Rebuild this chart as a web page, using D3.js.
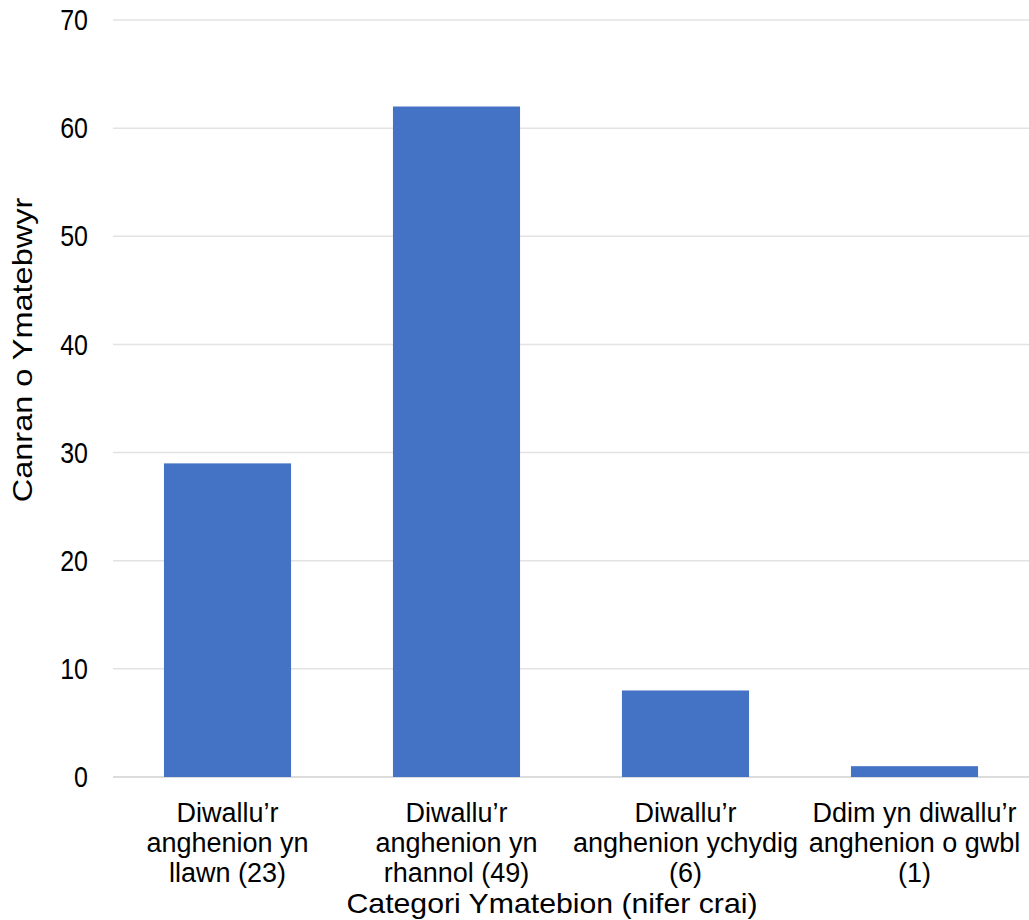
<!DOCTYPE html>
<html><head><meta charset="utf-8">
<script src="https://cdn.jsdelivr.net/npm/d3@7"></script>
<style>body{margin:0;background:#fff}svg{display:block}text{font-family:"Liberation Sans",Arial,sans-serif;fill:#000}</style>
</head><body><svg id="c" width="1029" height="920"></svg>
<script>
const categories = [
  ["Diwallu\u2019r", "anghenion yn", "llawn (23)"],
  ["Diwallu\u2019r", "anghenion yn", "rhannol (49)"],
  ["Diwallu\u2019r", "anghenion ychydig", "(6)"],
  ["Ddim yn diwallu\u2019r", "anghenion o gwbl", "(1)"]
];
const values = [29, 62, 8, 1];
const yTicks = [0, 10, 20, 30, 40, 50, 60, 70];
const yTitle = "Canran o Ymatebwyr";
const xTitle = "Categori Ymatebion (nifer crai)";

(function(){
const svg = d3.select("#c");
const mL = 113, mR = 1029, mT = 20, mB = 777;
const x = d3.scaleBand().domain(d3.range(categories.length)).range([mL, mR]).paddingInner(0.445).paddingOuter(0.2225);
const y = d3.scaleLinear().domain([0, 70]).range([mB, mT]);

svg.append("g").selectAll("line").data(yTicks).join("line")
  .attr("x1", mL).attr("x2", mR)
  .attr("y1", d => y(d)).attr("y2", d => y(d))
  .attr("stroke", d => d === 0 ? "#d0d0d0" : "#e3e3e3").attr("stroke-width", 1.5);

svg.append("g").selectAll("rect").data(values).join("rect")
  .attr("x", (d, i) => x(i)).attr("width", x.bandwidth())
  .attr("y", d => y(d)).attr("height", d => y(0) - y(d))
  .attr("fill", "#4472c4");

svg.append("g").selectAll("text").data(yTicks).join("text")
  .attr("transform", d => `translate(88,${y(d)}) scale(1,1.15)`)
  .attr("dy", "0.35em")
  .attr("text-anchor", "end").attr("font-size", 25).text(d => d);

const cl = svg.append("g").selectAll("text").data(categories).join("text")
  .attr("text-anchor", "middle").attr("font-size", 27);
cl.selectAll("tspan").data((d, i) => d.map(t => ({t, i}))).join("tspan")
  .attr("x", d => x(d.i) + x.bandwidth() / 2)
  .attr("y", (d, j) => 822 + j * 30)
  .text(d => d.t);

svg.append("text").attr("transform", "translate(552,913) scale(1.08,1)")
  .attr("text-anchor", "middle").attr("font-size", 28).text(xTitle);
svg.append("text").attr("transform", "translate(32,350) rotate(-90) scale(1.16,1)")
  .attr("text-anchor", "middle").attr("font-size", 28).text(yTitle);
})();
</script></body></html>
